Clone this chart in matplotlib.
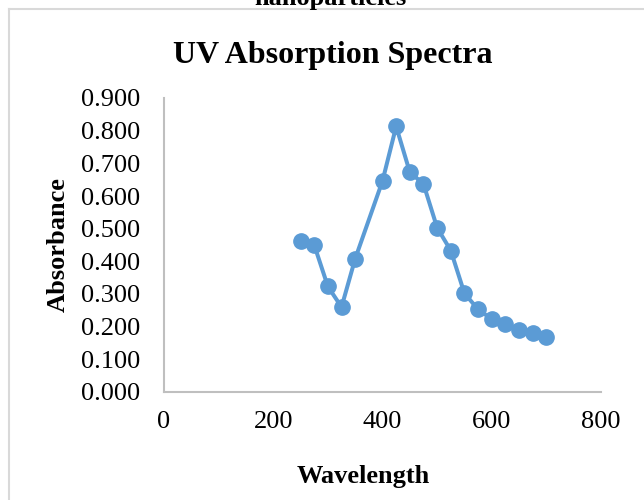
import matplotlib
matplotlib.use("Agg")
import matplotlib.pyplot as plt
from matplotlib.lines import Line2D

plt.rcParams['font.family'] = ['Liberation Serif', 'DejaVu Serif']

wavelength = [250, 275, 300, 325, 350, 400, 425, 450, 475, 500, 525, 550, 575, 600, 625, 650, 675, 700]
absorbance = [0.463, 0.450, 0.323, 0.260, 0.408, 0.646, 0.813, 0.673, 0.637, 0.503, 0.433, 0.302,
              0.253, 0.223, 0.209, 0.191, 0.182, 0.167]
xticks = [0, 200, 400, 600, 800]
yticks = [0.0, 0.1, 0.2, 0.3, 0.4, 0.5, 0.6, 0.7, 0.8, 0.9]

W, H = 644, 500
fig = plt.figure(figsize=(W / 100, H / 100), dpi=100)
fig.patch.set_facecolor('white')

# chart border (light gray) partially visible
fig.add_artist(Line2D([9 / W, 1.0], [1 - 9 / H, 1 - 9 / H], transform=fig.transFigure,
                      color='#d9d9d9', lw=1.5))
fig.add_artist(Line2D([9 / W, 9 / W], [0, 1 - 9 / H], transform=fig.transFigure,
                      color='#d9d9d9', lw=1.5))

# cut-off text at top (partially outside the image in the reference)
fig.text(330 / W, 1 - 5 / H, 'nanoparticles', ha='center', va='baseline',
         fontsize=19, fontweight='bold')

ax = fig.add_axes([164 / W, 1 - 392 / H, (601 - 164) / W, (392 - 98) / H])
ax.plot(wavelength, absorbance, color='#5b9bd5', lw=2.9, marker='o', markersize=11,
        markerfacecolor='#5b9bd5', markeredgecolor='#5b9bd5', clip_on=False)

ax.set_xlim(0, 800)
ax.set_ylim(0, 0.9)
ax.set_xticks(xticks)
ax.set_yticks(yticks)
ax.set_xticklabels([str(v) for v in xticks])
ax.set_yticklabels([f'{v:.3f}' for v in yticks])
ax.tick_params(axis='both', length=0, labelsize=19)
ax.tick_params(axis='y', pad=17)
ax.tick_params(axis='x', pad=14)

for s in ['top', 'right']:
    ax.spines[s].set_visible(False)
for s in ['left', 'bottom']:
    ax.spines[s].set_color('#bfbfbf')
    ax.spines[s].set_linewidth(1.5)

ax.set_xlabel('Wavelength', fontsize=19, fontweight='bold')
ax.xaxis.set_label_coords((363 - 164) / (601 - 164), -(476 - 392) / (392 - 98))
ax.xaxis.label.set_va('center')
ax.set_ylabel('Absorbance', fontsize=19, fontweight='bold')
ax.yaxis.set_label_coords(-(164 - 58) / (601 - 164), 0.5)
ax.yaxis.label.set_va('center')

fig.text(333 / W, 1 - 63 / H, 'UV Absorption Spectra', ha='center', va='baseline',
         fontsize=23, fontweight='bold')

fig.savefig('out.png', dpi=100, facecolor='white')
